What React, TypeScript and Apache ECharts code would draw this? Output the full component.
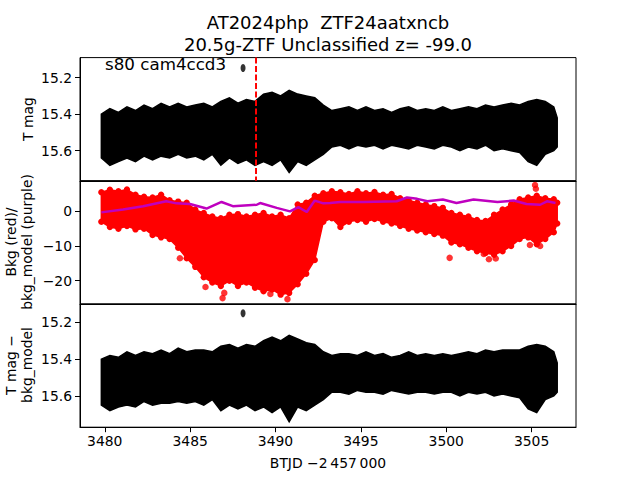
import React, { useEffect, useRef } from "react";
import * as echarts from "echarts";

// time grid of envelope samples (BTJD - 2457000)
const xs = [3479.8, 3480.3, 3480.8, 3481.3, 3481.8, 3482.3, 3482.8, 3483.3, 3483.8, 3484.3, 3484.8, 3485.3, 3485.8, 3486.3, 3486.8, 3487.3, 3487.8, 3488.3, 3488.8, 3489.3, 3489.8, 3490.3, 3490.8, 3491.3, 3491.8, 3492.3, 3492.8, 3493.3, 3493.8, 3494.3, 3494.8, 3495.3, 3495.8, 3496.3, 3496.8, 3497.3, 3497.8, 3498.3, 3498.8, 3499.3, 3499.8, 3500.3, 3500.8, 3501.3, 3501.8, 3502.3, 3502.8, 3503.3, 3503.8, 3504.3, 3504.8, 3505.3, 3505.8, 3506.3, 3506.5];

// Panel 1: T mag envelope (bright edge / faint edge)
const tmagTop = [15.40, 15.37, 15.39, 15.36, 15.38, 15.35, 15.37, 15.34, 15.36, 15.34, 15.36, 15.35, 15.34, 15.36, 15.33, 15.31, 15.34, 15.32, 15.33, 15.29, 15.28, 15.30, 15.27, 15.29, 15.30, 15.31, 15.35, 15.38, 15.37, 15.36, 15.38, 15.36, 15.38, 15.37, 15.39, 15.37, 15.36, 15.38, 15.37, 15.38, 15.36, 15.38, 15.37, 15.36, 15.37, 15.35, 15.36, 15.35, 15.34, 15.35, 15.33, 15.32, 15.33, 15.36, 15.42];
const tmagBot = [15.64, 15.68, 15.66, 15.64, 15.66, 15.63, 15.65, 15.63, 15.64, 15.62, 15.64, 15.63, 15.65, 15.62, 15.68, 15.64, 15.67, 15.65, 15.68, 15.66, 15.68, 15.65, 15.72, 15.66, 15.68, 15.65, 15.62, 15.58, 15.57, 15.59, 15.57, 15.58, 15.57, 15.59, 15.57, 15.58, 15.59, 15.57, 15.58, 15.59, 15.57, 15.58, 15.60, 15.58, 15.59, 15.57, 15.60, 15.59, 15.60, 15.61, 15.66, 15.68, 15.62, 15.60, 15.58];

// Panel 3: T mag - bkg_model envelope
const corrTop = [15.40, 15.38, 15.39, 15.36, 15.38, 15.36, 15.37, 15.35, 15.37, 15.34, 15.36, 15.35, 15.35, 15.36, 15.33, 15.32, 15.34, 15.32, 15.33, 15.30, 15.28, 15.30, 15.27, 15.29, 15.31, 15.32, 15.36, 15.38, 15.37, 15.37, 15.38, 15.36, 15.38, 15.37, 15.39, 15.38, 15.36, 15.38, 15.37, 15.38, 15.37, 15.38, 15.37, 15.36, 15.37, 15.35, 15.36, 15.35, 15.35, 15.35, 15.33, 15.32, 15.33, 15.36, 15.42];
const corrBot = [15.65, 15.68, 15.66, 15.65, 15.66, 15.63, 15.65, 15.64, 15.64, 15.63, 15.64, 15.63, 15.65, 15.62, 15.68, 15.65, 15.67, 15.65, 15.68, 15.66, 15.69, 15.66, 15.74, 15.66, 15.68, 15.65, 15.62, 15.58, 15.58, 15.59, 15.57, 15.58, 15.58, 15.59, 15.57, 15.58, 15.59, 15.58, 15.58, 15.59, 15.58, 15.58, 15.60, 15.58, 15.59, 15.58, 15.60, 15.59, 15.60, 15.61, 15.67, 15.69, 15.62, 15.60, 15.58];

// Panel 2: background (red) envelope
const bkgTop = [5.5, 6.2, 5.8, 6.3, 4.8, 4.2, 4.0, 4.8, 3.2, 2.8, 2.5, 0.5, -0.5, -1.5, -2.0, -1.0, -0.8, -1.5, -1.0, -0.5, -1.5, -1.0, -2.0, 2.0, 2.5, 4.5, 5.2, 5.8, 5.5, 5.0, 5.8, 5.2, 5.6, 4.8, 5.0, 3.8, 3.2, 2.5, 2.0, 1.5, 1.0, -0.5, -1.0, -1.5, -2.5, -2.8, -1.0, 0.5, 2.0, 3.5, 4.0, 4.5, 3.8, 3.5, 2.5];
const bkgBot = [-3.0, -4.5, -5.0, -4.2, -5.2, -5.0, -6.8, -7.5, -8.0, -10.5, -13.5, -16.0, -19.0, -20.5, -21.5, -20.0, -21.5, -20.5, -22.0, -23.0, -22.5, -24.0, -23.5, -21.0, -18.0, -14.0, -3.0, -2.0, -4.5, -3.0, -2.5, -3.0, -2.2, -3.0, -3.5, -4.2, -5.0, -5.5, -6.0, -6.5, -7.0, -9.0, -9.5, -10.5, -11.5, -12.0, -12.5, -11.5, -10.0, -8.0, -7.5, -9.5, -8.0, -6.0, -3.5];
const bkgOutX = [3484.4, 3485.6, 3485.9, 3486.9, 3487.0, 3489.7, 3490.7, 3500.2, 3502.2, 3502.5, 3502.9, 3504.9, 3505.5, 3505.2, 3505.25];
const bkgOutY = [-13.5, -15.8, -21.8, -25.0, -23.5, -23.8, -25.3, -13.4, -12.3, -13.8, -13.6, -9.7, -10.0, 7.6, 6.5];

// bkg_model (purple)
const modelX = [3479.8, 3481.07, 3482.25, 3483.6, 3484.2, 3484.99, 3485.96, 3486.84, 3487.5, 3488.9, 3489.1, 3490.07, 3490.85, 3491.34, 3491.83, 3492.3, 3492.8, 3493.2, 3493.8, 3495.15, 3497.1, 3497.7, 3498.3, 3498.9, 3499.8, 3500.6, 3501.6, 3503.0, 3503.95, 3504.7, 3505.5, 3505.9, 3506.4];
const modelY = [-0.3, 0.5, 1.45, 2.9, 2.3, 2.1, 0.8, 2.7, 1.5, 1.9, 2.4, 1.0, 0.0, 1.2, -0.2, 3.1, 2.3, 2.4, 2.7, 2.7, 2.9, 4.0, 3.6, 2.9, 3.4, 2.4, 3.4, 2.7, 3.1, 2.1, 1.9, 2.9, 2.4];

// isolated bright point
const outX = [3488.1];
const outMag = [15.147];
const outCorr = [15.15];

const eventX = 3488.86;

const xTicks = [3480, 3485, 3490, 3495, 3500, 3505];
const magTicks = [15.2, 15.4, 15.6];
const bkgTicks = [-20, -10, 0];

const FONT = "DejaVu Sans";

function fmt(v: number) {
  const s = String(Math.abs(v));
  return v < 0 ? "\u2212" + s : s;
}

function band(idx: number, hi: number[], lo: number[], color: string, dots: boolean) {
  return {
    type: "custom",
    xAxisIndex: idx,
    yAxisIndex: idx,
    clip: true,
    z: 2,
    data: xs.map((x, i) => [x, hi[i], lo[i]]),
    encode: { x: 0, y: [1, 2] },
    renderItem: (params: any, api: any) => {
      if (params.dataIndex !== 0) return null;
      const pts: number[][] = [];
      for (let i = 0; i < xs.length; i++) pts.push(api.coord([xs[i], hi[i]]));
      for (let i = xs.length - 1; i >= 0; i--) pts.push(api.coord([xs[i], lo[i]]));
      const children: any[] = [
        { type: "polygon", shape: { points: pts }, style: { fill: color, stroke: color, lineWidth: 1.5 } },
      ];
      if (dots) {
        pts.forEach((p) => children.push({ type: "circle", shape: { cx: p[0], cy: p[1], r: 3.2 }, style: { fill: color } }));
      }
      return { type: "group", children };
    },
  };
}

export default function App() {
  const ref = useRef<HTMLDivElement>(null);
  useEffect(() => {
    const chart = echarts.init(ref.current!, undefined, { renderer: "svg" });
    const grids = [57.6, 180.8, 304].map((top) => ({
      left: 80,
      width: 496,
      top,
      height: 123.2,
      show: true,
      borderColor: "#000",
      borderWidth: 1,
      backgroundColor: "transparent",
      containLabel: false,
    }));
    const xAxes = [0, 1, 2].map((i) => ({
      type: "value",
      gridIndex: i,
      min: 3478.55,
      max: 3507.6,
      splitLine: { show: false },
      axisLine: { show: true, onZero: false, lineStyle: { color: "#000", width: 1 } },
      axisTick: { show: i === 2, length: 5, lineStyle: { color: "#000" }, customValues: xTicks },
      axisLabel: {
        show: i === 2,
        customValues: xTicks,
        color: "#000",
        fontSize: 13.9,
        fontFamily: FONT,
        margin: 7,
        formatter: (v: number) => String(v),
      },
    }));
    const yAxisBase = (i: number, min: number, max: number, ticks: number[], inverse: boolean) => ({
      type: "value",
      gridIndex: i,
      min,
      max,
      inverse,
      splitLine: { show: false },
      axisLine: { show: true, onZero: false, lineStyle: { color: "#000", width: 1 } },
      axisTick: { show: true, length: 5, lineStyle: { color: "#000" }, customValues: ticks },
      axisLabel: {
        customValues: ticks,
        color: "#000",
        fontSize: 13.9,
        fontFamily: FONT,
        margin: 8,
        formatter: (v: number) => fmt(v),
      },
    });
    const yAxes = [
      yAxisBase(0, 15.09, 15.765, magTicks, true),
      yAxisBase(1, -26.7, 8.8, bkgTicks, false),
      yAxisBase(2, 15.1, 15.77, magTicks, true),
    ];
    const txt = (text: string, x: number, y: number, size: number, align: string, rot = 0) => ({
      type: "text",
      x,
      y,
      rotation: rot,
      z: 100,
      style: {
        text,
        fill: "#000",
        fontSize: size,
        fontFamily: FONT,
        align,
        textAlign: align,
        verticalAlign: "middle",
        textVerticalAlign: "middle",
        lineHeight: size * 1.2,
      },
    });
    chart.setOption({
      animation: false,
      backgroundColor: "#fff",
      grid: grids,
      xAxis: xAxes,
      yAxis: yAxes,
      graphic: [
        txt("AT2024php  ZTF24aatxncb", 328, 22, 18, "center"),
        txt("20.5g-ZTF Unclassified z= -99.0", 328, 44, 18, "center"),
        txt("s80 cam4ccd3", 105, 64, 16.7, "left"),
        txt("BTJD \u22122\u2009457\u2009000", 328, 463, 13.9, "center"),
        txt("T mag", 28, 119, 13.9, "center", Math.PI / 2),
        txt("Bkg (red)/\nbkg_model (purple)", 19, 242, 13.9, "center", Math.PI / 2),
        txt("T mag \u2212\nbkg_model", 19, 365, 13.9, "center", Math.PI / 2),
      ],
      series: [
        band(0, tmagTop, tmagBot, "#000", false),
        {
          type: "scatter",
          xAxisIndex: 0,
          yAxisIndex: 0,
          symbol: "circle",
          symbolSize: [5, 8],
          itemStyle: { color: "#000" },
          data: outX.map((x, i) => [x, outMag[i]]),
          z: 3,
        },
        {
          type: "line",
          xAxisIndex: 0,
          yAxisIndex: 0,
          symbol: "none",
          data: [
            [eventX, 15.09],
            [eventX, 15.765],
          ],
          lineStyle: { color: "#ff0000", width: 2, type: [6, 2.5] },
          z: 5,
        },
        band(1, bkgTop, bkgBot, "#ff0000", true),
        {
          type: "scatter",
          xAxisIndex: 1,
          yAxisIndex: 1,
          symbol: "circle",
          symbolSize: 6.5,
          itemStyle: { color: "#ff0000" },
          data: bkgOutX.map((x, i) => [x, bkgOutY[i]]),
          z: 3,
        },
        {
          type: "line",
          xAxisIndex: 1,
          yAxisIndex: 1,
          symbol: "none",
          data: modelX.map((x, i) => [x, modelY[i]]),
          lineStyle: { color: "#bf00bf", width: 2.5 },
          z: 6,
        },
        band(2, corrTop, corrBot, "#000", false),
        {
          type: "scatter",
          xAxisIndex: 2,
          yAxisIndex: 2,
          symbol: "circle",
          symbolSize: [5, 8],
          itemStyle: { color: "#000" },
          data: outX.map((x, i) => [x, outCorr[i]]),
          z: 3,
        },
      ],
    });
    return () => chart.dispose();
  }, []);
  return <div ref={ref} style={{ position: "absolute", left: 0, top: 0, width: 640, height: 480 }} />;
}
